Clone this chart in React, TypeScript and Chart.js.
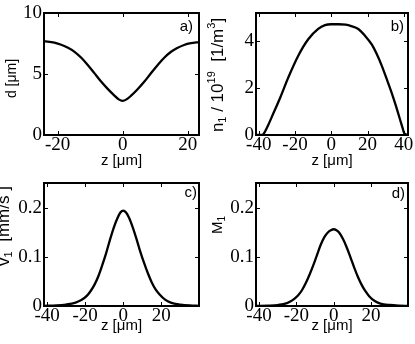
import React, { useEffect, useRef } from 'react';
import { Chart, registerables } from 'chart.js';

Chart.register(...registerables);

// ---------- data ----------
const aZ = [-24.2, -21, -18.9, -16.8, -14.8, -12.8, -10.8, -8.7, -6.7, -4.6, -2.6, -1.2, 0, 1.2, 2.6, 4.6, 6.7, 8.7, 10.8, 12.8, 14.8, 16.8, 18.9, 21, 23.5];
const aD = [7.7, 7.57, 7.4, 7.15, 6.82, 6.35, 5.76, 5.07, 4.4, 3.78, 3.25, 2.92, 2.8, 2.92, 3.22, 3.75, 4.38, 5.06, 5.74, 6.33, 6.8, 7.13, 7.38, 7.53, 7.62];

const bZ = [-41.5, -38.5, -37.5, -36.5, -35, -32.9, -28, -23.7, -18.2, -12.7, -7.2, -3.5, 0, 4, 8, 11, 14.9, 18.5, 22.3, 25, 27.8, 30.5, 33.3, 35.6, 37.9, 39.3, 40.3, 42.3];
const bN = [0, 0, 0.03, 0.15, 0.38, 0.75, 1.62, 2.45, 3.38, 4.08, 4.52, 4.68, 4.72, 4.72, 4.7, 4.64, 4.52, 4.24, 3.86, 3.46, 2.96, 2.4, 1.8, 1.25, 0.66, 0.3, 0.06, 0];

const cZ = [-41.6, -35, -30, -25, -22, -19, -17, -15, -13, -11, -9, -7, -5, -3, -1.5, 0, 1.5, 3, 5, 7, 9, 11, 13, 15, 17, 19, 22, 25, 30, 35, 39.8];
const cV = [0.0003, 0.001, 0.003, 0.007, 0.012, 0.021, 0.031, 0.044, 0.061, 0.083, 0.107, 0.134, 0.159, 0.179, 0.19, 0.194, 0.19, 0.18, 0.16, 0.136, 0.11, 0.087, 0.066, 0.048, 0.034, 0.024, 0.013, 0.007, 0.003, 0.001, 0.0003];

const dZ = [-41.6, -35, -30, -25, -22, -19, -17, -15, -13, -11, -9, -7, -5, -3, -1.5, 0, 1.5, 3, 5, 7, 9, 11, 13, 15, 17, 19, 22, 25, 30, 35, 39.8];
const dM = [0.0002, 0.0007, 0.002, 0.006, 0.012, 0.022, 0.032, 0.046, 0.063, 0.082, 0.103, 0.124, 0.14, 0.15, 0.154, 0.156, 0.154, 0.149, 0.136, 0.119, 0.099, 0.078, 0.059, 0.043, 0.03, 0.02, 0.01, 0.005, 0.002, 0.0007, 0.0002];

const aXTicks = [-20, 0, 20];
const aYTicks = [0, 5, 10];
const bXTicks = [-40, -20, 0, 20, 40];
const bYTicks = [0, 2, 4];
const cXTicks = [-40, -20, 0, 20];
const cYTicks = [0, 0.1, 0.2];
const dXTicks = [-40, -20, 0, 20];
const dYTicks = [0, 0.1, 0.2];

const xTitle = 'z [\u03bcm]';
const tags = ['a)', 'b)', 'c)', 'd)'];

// ---------- layout ----------
const W = 415;
const H = 344;
const YW = 44;
const SERIF = 'Liberation Serif, serif';
const SANS = 'Liberation Sans, Arial, sans-serif';

type Seg = { t: string; s: number; dy: number };

interface Panel {
  xs: number[];
  ys: number[];
  xMin: number;
  xMax: number;
  yMin: number;
  yMax: number;
  xTicks: number[];
  yTicks: number[];
  area: { l: number; t: number; r: number; b: number };
  xh: number;
  yTitle: Seg[];
  yTitlePos: [number, number];
  tag: string;
  tagPos: [number, number];
}

const panels: Panel[] = [
  {
    xs: aZ, ys: aD, xMin: -24.2, xMax: 23.5, yMin: 0, yMax: 10,
    xTicks: aXTicks, yTicks: aYTicks,
    area: { l: 44, t: 13, r: 199, b: 135 }, xh: 35,
    yTitle: [{ t: 'd [\u03bcm]', s: 14, dy: 0 }],
    yTitlePos: [16, 78.5],
    tag: tags[0], tagPos: [193, 27],
  },
  {
    xs: bZ, ys: bN, xMin: -41.5, xMax: 42.3, yMin: 0, yMax: 5.2,
    xTicks: bXTicks, yTicks: bYTicks,
    area: { l: 256, t: 13, r: 408, b: 135 }, xh: 35,
    yTitle: [
      { t: 'n', s: 17, dy: 0 },
      { t: '1', s: 11, dy: 3 },
      { t: ' / 10', s: 17, dy: 0 },
      { t: '19', s: 11, dy: -8 },
      { t: '  [1/m', s: 17, dy: 0 },
      { t: '3', s: 11, dy: -8 },
      { t: ']', s: 17, dy: 0 },
    ],
    yTitlePos: [222.5, 75],
    tag: tags[1], tagPos: [404, 27],
  },
  {
    xs: cZ, ys: cV, xMin: -41.6, xMax: 39.8, yMin: 0, yMax: 0.25,
    xTicks: cXTicks, yTicks: cYTicks,
    area: { l: 44, t: 183, r: 199, b: 306 }, xh: 28.5,
    yTitle: [
      { t: 'v', s: 17, dy: 0 },
      { t: '1', s: 11, dy: 3 },
      { t: '  [mm/s ]', s: 17, dy: 0 },
    ],
    yTitlePos: [8.5, 226],
    tag: tags[2], tagPos: [197, 193],
  },
  {
    xs: dZ, ys: dM, xMin: -41.6, xMax: 39.8, yMin: 0, yMax: 0.25,
    xTicks: dXTicks, yTicks: dYTicks,
    area: { l: 256, t: 183, r: 408, b: 306 }, xh: 28.5,
    yTitle: [
      { t: 'M', s: 15, dy: 0 },
      { t: '1', s: 10, dy: 3 },
    ],
    yTitlePos: [222, 225],
    tag: tags[3], tagPos: [405, 193.5],
  },
];

function makeDeco(p: Panel) {
  return {
    id: 'deco',
    afterDraw(chart: any) {
      const ctx: CanvasRenderingContext2D = chart.ctx;
      const { left, top, right, bottom } = chart.chartArea;
      const xs = chart.scales.x;
      const ys = chart.scales.y;
      ctx.save();
      ctx.strokeStyle = '#000';
      ctx.lineWidth = 1;
      const TL = 4;
      ctx.beginPath();
      p.xTicks.forEach((v) => {
        const px = Math.round(xs.getPixelForValue(v)) + 0.5;
        if (px <= left + 2 || px >= right - 2) return;
        ctx.moveTo(px, bottom);
        ctx.lineTo(px, bottom - TL);
        ctx.moveTo(px, top);
        ctx.lineTo(px, top + TL);
      });
      p.yTicks.forEach((v) => {
        const py = Math.round(ys.getPixelForValue(v)) + 0.5;
        if (py <= top + 2 || py >= bottom - 2) return;
        ctx.moveTo(left, py);
        ctx.lineTo(left + TL, py);
        ctx.moveTo(right, py);
        ctx.lineTo(right - TL, py);
      });
      ctx.stroke();
      ctx.lineWidth = 2;
      ctx.strokeRect(left, top, right - left, bottom - top);
      ctx.fillStyle = '#000';
      ctx.font = `15px ${SANS}`;
      ctx.textAlign = 'right';
      ctx.textBaseline = 'middle';
      ctx.fillText(p.tag, p.tagPos[0], p.tagPos[1]);
      ctx.translate(p.yTitlePos[0], p.yTitlePos[1]);
      ctx.rotate(-Math.PI / 2);
      ctx.textAlign = 'left';
      ctx.textBaseline = 'alphabetic';
      let total = 0;
      const widths = p.yTitle.map((s) => {
        ctx.font = `${s.s}px ${SANS}`;
        const w = ctx.measureText(s.t).width;
        total += w;
        return w;
      });
      let x = -total / 2;
      p.yTitle.forEach((s, i) => {
        ctx.font = `${s.s}px ${SANS}`;
        ctx.fillText(s.t, x, s.dy);
        x += widths[i];
      });
      ctx.restore();
    },
  };
}

function PanelChart({ p }: { p: Panel }) {
  const ref = useRef<HTMLCanvasElement>(null);
  useEffect(() => {
    if (!ref.current) return;
    const chart = new Chart(ref.current, {
      type: 'line',
      data: {
        datasets: [
          {
            data: p.xs.map((x, i) => ({ x, y: p.ys[i] })),
            borderColor: '#000',
            borderWidth: 2.3,
            pointRadius: 0,
            fill: false,
            cubicInterpolationMode: 'monotone',
          },
        ],
      },
      options: {
        responsive: false,
        maintainAspectRatio: false,
        animation: false,
        devicePixelRatio: 1,
        events: [],
        layout: {
          padding: {
            left: p.area.l - YW,
            top: p.area.t,
            right: W - p.area.r,
            bottom: H - p.area.b - p.xh,
          },
        },
        plugins: { legend: { display: false }, tooltip: { enabled: false }, title: { display: false } },
        scales: {
          x: {
            type: 'linear',
            min: p.xMin,
            max: p.xMax,
            grid: { display: false, drawTicks: false },
            border: { display: false },
            afterBuildTicks: (s: any) => {
              s.ticks = p.xTicks.map((v) => ({ value: v }));
            },
            afterFit: (s: any) => {
              s.height = p.xh;
              s.paddingLeft = 0;
              s.paddingRight = 0;
              s.paddingTop = 0;
              s.paddingBottom = 0;
            },
            ticks: {
              font: { family: SERIF, size: 19, lineHeight: 1 },
              color: '#000', padding: 0.5, maxRotation: 0, minRotation: 0, autoSkip: false,
            },
            title: {
              display: true,
              text: xTitle,
              color: '#000',
              font: { family: SANS, size: 15, lineHeight: 1.2 },
              padding: { top: 0, bottom: 0 },
            },
          },
          y: {
            type: 'linear',
            min: p.yMin,
            max: p.yMax,
            grid: { display: false, drawTicks: false },
            border: { display: false },
            afterBuildTicks: (s: any) => {
              s.ticks = p.yTicks.map((v) => ({ value: v }));
            },
            afterFit: (s: any) => {
              s.width = YW;
              s.paddingLeft = 0;
              s.paddingRight = 0;
              s.paddingTop = 0;
              s.paddingBottom = 0;
            },
            ticks: {
              font: { family: SERIF, size: 19, lineHeight: 1 },
              color: '#000', padding: 2, autoSkip: false,
            },
          },
        },
      },
      plugins: [makeDeco(p)],
    } as any);
    return () => chart.destroy();
  }, [p]);
  return (
    <canvas
      ref={ref}
      width={W}
      height={H}
      style={{ position: 'absolute', left: 0, top: 0, width: W, height: H }}
    />
  );
}

export default function App() {
  return (
    <div style={{ position: 'fixed', left: 0, top: 0, width: W, height: H, background: '#fff' }}>
      {panels.map((p, i) => (
        <PanelChart key={i} p={p} />
      ))}
    </div>
  );
}
